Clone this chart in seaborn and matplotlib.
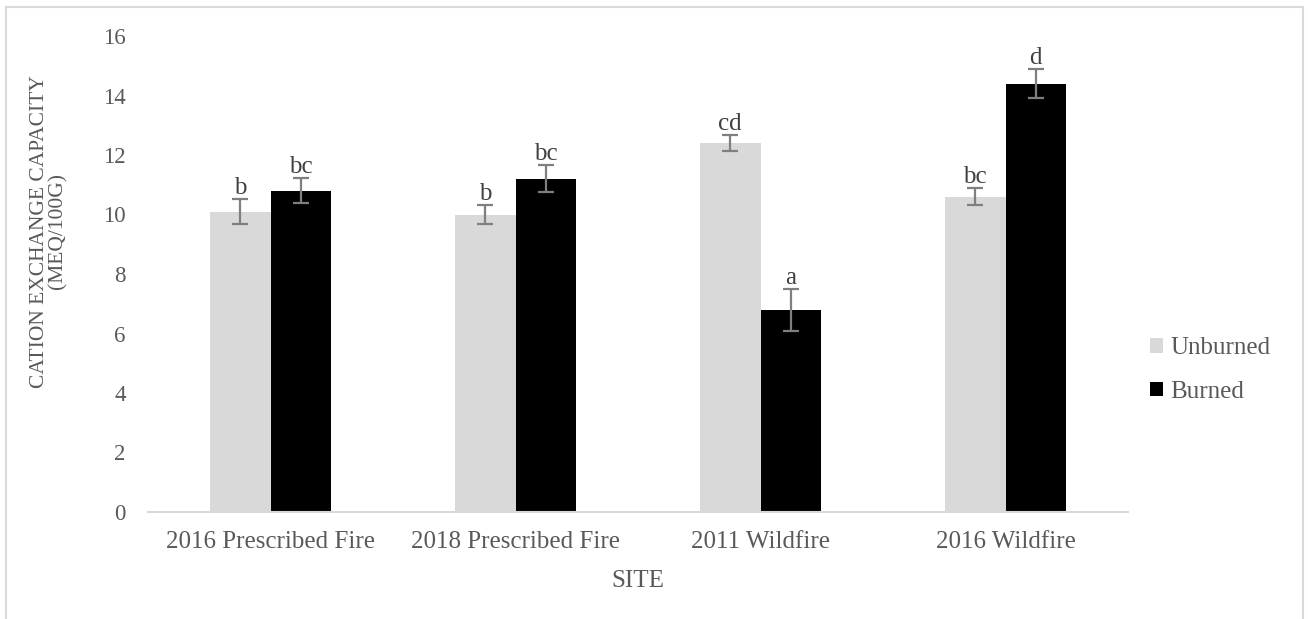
import matplotlib
matplotlib.use("Agg")
import matplotlib.pyplot as plt
import seaborn as sns
import pandas as pd
from matplotlib.patches import Rectangle

# Soil cation exchange capacity by site and burn treatment
sites = ["2016 Prescribed Fire", "2018 Prescribed Fire", "2011 Wildfire", "2016 Wildfire"]
treatments = ["Unburned", "Burned"]
unburned_cec = [10.1, 10.0, 12.4, 10.6]
burned_cec = [10.8, 11.2, 6.8, 14.4]
unburned_err = [0.42, 0.32, 0.28, 0.28]
burned_err = [0.42, 0.46, 0.70, 0.50]
unburned_letters = ["b", "b", "cd", "bc"]
burned_letters = ["bc", "bc", "a", "d"]

df = pd.DataFrame({
    "site": sites * 2,
    "treatment": ["Unburned"] * len(sites) + ["Burned"] * len(sites),
    "cec": unburned_cec + burned_cec,
    "err": unburned_err + burned_err,
    "letter": unburned_letters + burned_letters,
})

sns.set_theme(style="white")
plt.rcParams["font.family"] = ["Liberation Serif", "DejaVu Serif"]

text_color = "#595959"
fig = plt.figure(figsize=(13.08, 6.19), dpi=100)
ax = fig.add_axes([148 / 1308, 1 - 512 / 619, 980 / 1308, 476 / 619])

sns.barplot(data=df, x="site", y="cec", hue="treatment", order=sites,
            hue_order=treatments, palette=["#d9d9d9", "#000000"],
            width=0.494, errorbar=None, ax=ax, saturation=1,
            edgecolor="none", linewidth=0)

# Error bars and significance letters, positioned from the drawn bars
for container, tr in zip(ax.containers, treatments):
    sub = df[df["treatment"] == tr].set_index("site").loc[sites]
    for patch, (_, row) in zip(container.patches, sub.iterrows()):
        xc = patch.get_x() + patch.get_width() / 2
        h = patch.get_height()
        ax.errorbar(xc, h, yerr=row["err"], fmt="none", ecolor="#7f7f7f",
                    elinewidth=1.6, capsize=6, capthick=1.6, zorder=3)
        ax.annotate(row["letter"], (xc, h + row["err"]), xytext=(0, 0),
                    textcoords="offset points", ha="center", va="bottom",
                    fontsize=18, color="#404040")

ax.set_ylim(0, 16)
ax.set_xlim(-0.5, 3.5)
ax.set_yticks(range(0, 17, 2))
ax.tick_params(axis="x", length=0, labelsize=18, colors=text_color, pad=14)
ax.tick_params(axis="y", length=0, labelsize=16.5, colors=text_color, pad=16)
for s in ["top", "right", "left"]:
    ax.spines[s].set_visible(False)
ax.spines["bottom"].set_color("#d9d9d9")
ax.spines["bottom"].set_linewidth(1.5)

ax.set_xlabel("SITE", fontsize=18, color=text_color, labelpad=12)
ax.set_ylabel("CATION EXCHANGE CAPACITY\n(MEQ/100G)", fontsize=15.5,
              color=text_color, linespacing=0.95)
ax.yaxis.set_label_coords(-0.082, 0.59)

leg = ax.legend(loc="center left", bbox_to_anchor=(1140 / 1308, 1 - 370 / 619),
                bbox_transform=fig.transFigure, frameon=False, fontsize=18,
                handlelength=0.5, handleheight=0.5, handletextpad=0.3,
                labelspacing=0.85, borderaxespad=0)
for t in leg.get_texts():
    t.set_color(text_color)

# Chart-area border
fig.patches.append(Rectangle((6 / 1308, -0.05), 1297 / 1308, 1.05 - 7 / 619,
                             transform=fig.transFigure, fill=False,
                             edgecolor="#d9d9d9", linewidth=1.5))

fig.savefig("out.png", dpi=100)
